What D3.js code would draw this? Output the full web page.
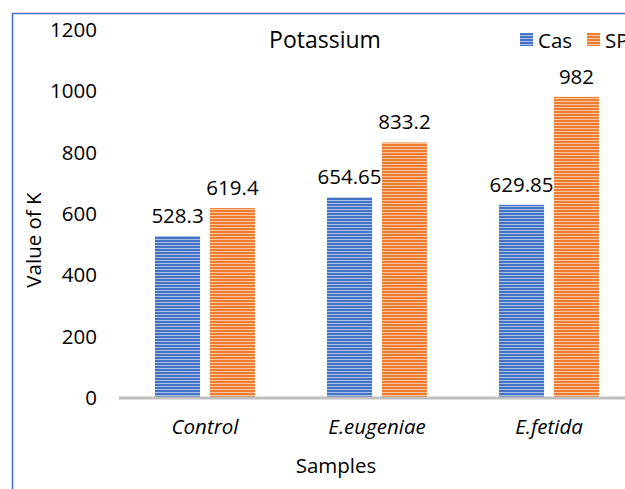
<!DOCTYPE html>
<html><head><meta charset="utf-8">
<script src="https://cdn.jsdelivr.net/npm/d3@7"></script>
<style>body{margin:0;background:#fff}svg{display:block;font-family:"Open Sans",sans-serif}</style>
</head><body><svg id="c" width="625" height="489"></svg>
<script>
const categories = ["Control", "E.eugeniae", "E.fetida"];
const seriesNames = ["Cas", "SP"];
const casValues = [528.3, 654.65, 629.85];
const spValues = [619.4, 833.2, 982];
const valueLabels = [["528.3","654.65","629.85"],["619.4","833.2","982"]];
const yTicks = [0, 200, 400, 600, 800, 1000, 1200];

const FONT = "'Open Sans',sans-serif";
const FS = 20.5;
const svg = d3.select("#c");
const colors = ["#4472C4", "#ED7D31"];
const lights = ["#A9BFE6", "#F7C6A3"];
const defs = svg.append("defs");
colors.forEach((c, i) => {
  const p = defs.append("pattern").attr("id", "p" + i).attr("patternUnits", "userSpaceOnUse")
    .attr("width", 8).attr("height", 3);
  p.append("rect").attr("width", 8).attr("height", 3).attr("fill", lights[i]);
  p.append("rect").attr("width", 8).attr("height", 2).attr("fill", c);
});

svg.append("rect").attr("width", 625).attr("height", 489).attr("fill", "#fff");
svg.append("rect").attr("x", 12.5).attr("y", 13.5).attr("width", 700).attr("height", 600)
  .attr("fill", "none").attr("stroke", "#4472C4").attr("stroke-width", 1.5);

const x0 = d3.scaleBand().domain(categories).range([119, 635]);
const x1 = d3.scaleBand().domain(seriesNames).range([0, 100]).paddingInner(0.18);
const y = d3.scaleLinear().domain([0, 1200]).range([398, 30]);

const yAxis = svg.append("g").attr("transform", "translate(97,0)")
  .call(d3.axisLeft(y).tickValues(yTicks).tickFormat(d3.format("d")).tickSize(0).tickPadding(0));
yAxis.select(".domain").remove();
yAxis.selectAll("text").attr("font-size", FS).attr("fill", "#000").attr("font-family", FONT);

const data = [casValues, spValues];
categories.forEach((cat, ci) => {
  const gx = x0(cat) + x0.bandwidth() / 2 - 50;
  seriesNames.forEach((s, si) => {
    const v = data[si][ci];
    svg.append("rect").attr("x", gx + x1(s)).attr("y", y(v))
      .attr("width", x1.bandwidth()).attr("height", y(0) - y(v)).attr("fill", `url(#p${si})`);
    svg.append("text").attr("x", gx + x1(s) + x1.bandwidth() / 2).attr("y", y(v) - 13)
      .attr("text-anchor", "middle").attr("font-size", FS).text(valueLabels[si][ci]);
  });
});

svg.append("line").attr("x1", 119).attr("x2", 635).attr("y1", 398).attr("y2", 398)
  .attr("stroke", "#BFBFBF").attr("stroke-width", 3);

const xAxis = svg.append("g").attr("transform", "translate(0,398)")
  .call(d3.axisBottom(x0).tickSize(0).tickPadding(0));
xAxis.select(".domain").remove();
xAxis.selectAll("text").attr("font-size", FS).attr("fill", "#000").attr("font-style", "italic")
  .attr("font-family", FONT).attr("dy", 36);

svg.append("text").attr("x", 336).attr("y", 473).attr("text-anchor", "middle").attr("font-size", FS).text("Samples");
svg.append("text").attr("transform", "translate(41,240) rotate(-90)").attr("text-anchor", "middle")
  .attr("font-size", FS).text("Value of K");
svg.append("text").attr("x", 325).attr("y", 48).attr("text-anchor", "middle").attr("font-size", 23).text("Potassium");

const leg = svg.append("g");
seriesNames.forEach((s, i) => {
  const lx = 520 + i * 67;
  leg.append("rect").attr("x", lx).attr("y", 33).attr("width", 13).attr("height", 13).attr("fill", `url(#p${i})`);
  leg.append("text").attr("x", lx + 18).attr("y", 48).attr("font-size", FS).text(s);
});
</script></body></html>
